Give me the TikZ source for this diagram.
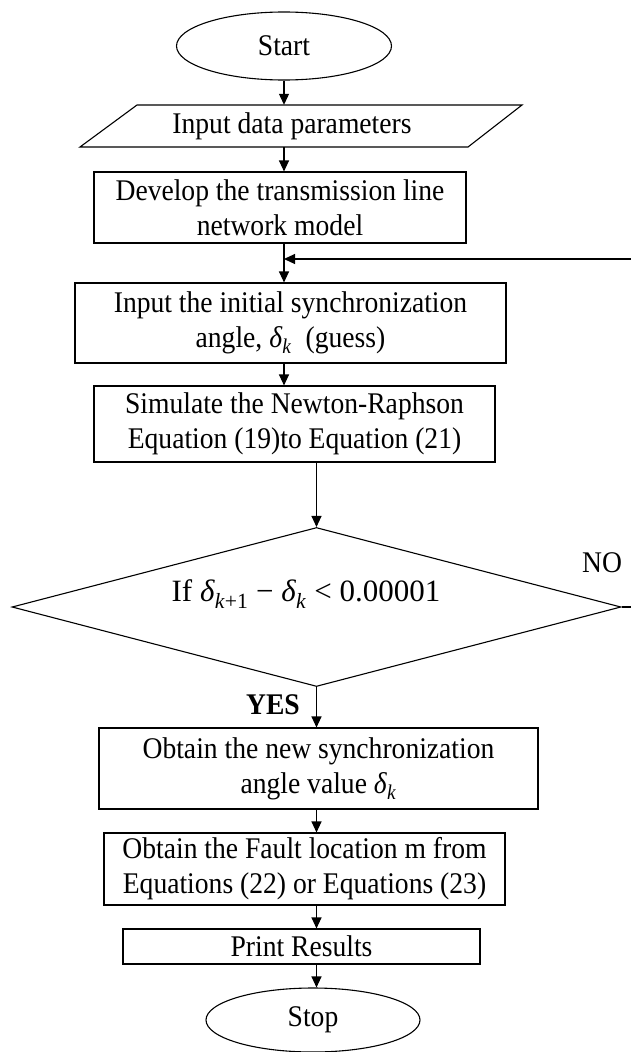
\documentclass[tikz,border=0pt]{standalone}
\usepackage{fontspec}
\setmainfont{Liberation Serif}[FakeStretch=0.92]
\newfontfamily\dfont{Liberation Serif}
\usetikzlibrary{shapes.geometric,arrows.meta,calc}
\tikzset{
  box/.style={draw, line width=1.1pt, inner sep=0pt, align=center},
  term/.style={draw, line width=1.1pt, ellipse, inner sep=0pt},
  cond/.style={draw, line width=1.1pt, diamond, aspect=3.83, inner sep=0pt, minimum width=609pt, minimum height=159pt},
  arr/.style={line width=1.1pt, -{Triangle[length=11pt,width=10pt]}},
  ln/.style={line width=1.1pt},
  lbl/.style={inner sep=0pt}
}
\begin{document}
\begin{tikzpicture}[x=1pt,y=-1pt,font=\fontsize{30}{35}\selectfont]
\useasboundingbox (0,0) rectangle (630,1052);
% nodes
\node[term, minimum width=215pt, minimum height=68pt] (start) at (284,46) {Start};
\node[lbl, minimum width=330pt, minimum height=42pt] (inp) at (292,126) {Input data parameters};
\draw[ln] (137,105) -- (522,105) -- (468,147) -- (80,147) -- cycle;
\node[box, minimum width=372pt, minimum height=71pt] (dev) at (280,207.5) {Develop the transmission line\\network model};
\node[box, minimum width=431pt, minimum height=80pt] (init) at (290.5,323) {Input the initial synchronization\\angle, \textit{δ}\textsubscript{\textit{k}}\ \ (guess)};
\node[box, minimum width=401pt, minimum height=76pt] (sim) at (294.5,424) {Simulate the Newton-Raphson\\Equation (19)to Equation (21)};
\node[cond] (dia) at (316.5,607) {};
\node[lbl, font=\dfont\fontsize{31}{36}\selectfont] (cond) at (306,594) {If \textit{δ}\textsubscript{\textit{k}+1} − \textit{δ}\textsubscript{\textit{k}} < 0.00001};
\node[box, minimum width=439pt, minimum height=81pt] (obt) at (318.5,768.5) {Obtain the new synchronization\\angle value \textit{δ}\textsubscript{\textit{k}}};
\node[box, minimum width=401pt, minimum height=72pt] (fault) at (304.5,869) {Obtain the Fault location m from\\Equations (22) or Equations (23)};
\node[box, minimum width=357pt, minimum height=35pt] (print) at (301.5,946.5) {Print Results};
\node[term, minimum width=214pt, minimum height=64pt] (stop) at (313,1020) {Stop};
\node[lbl] (no) at (602,563) {NO};
\node[lbl, font=\fontsize{30}{35}\selectfont\bfseries] (yes) at (273,705) {YES};
% helper coordinates for the loop
\coordinate (lj) at (284,259);
\coordinate (ne) at (640,259);
\coordinate (ee) at (640,607);
% connectors
\draw[arr] (start.south) -- (start.south |- inp.north);
\draw[arr] (start.south |- inp.south) -- (start.south |- dev.north);
\draw[arr] (start.south |- dev.south) -- (start.south |- init.north);
\draw[arr] (dia.east) -- (ee) -- (ne) -- (lj);
\draw[arr] (start.south |- init.south) -- (start.south |- sim.north);
\draw[arr] (dia.north |- sim.south) -- (dia.north);
\draw[arr] (dia.south) -- (dia.south |- obt.north);
\draw[arr] (dia.south |- obt.south) -- (dia.south |- fault.north);
\draw[arr] (dia.south |- fault.south) -- (dia.south |- print.north);
\draw[arr] (dia.south |- print.south) -- (dia.south |- stop.north);
\end{tikzpicture}
\end{document}
